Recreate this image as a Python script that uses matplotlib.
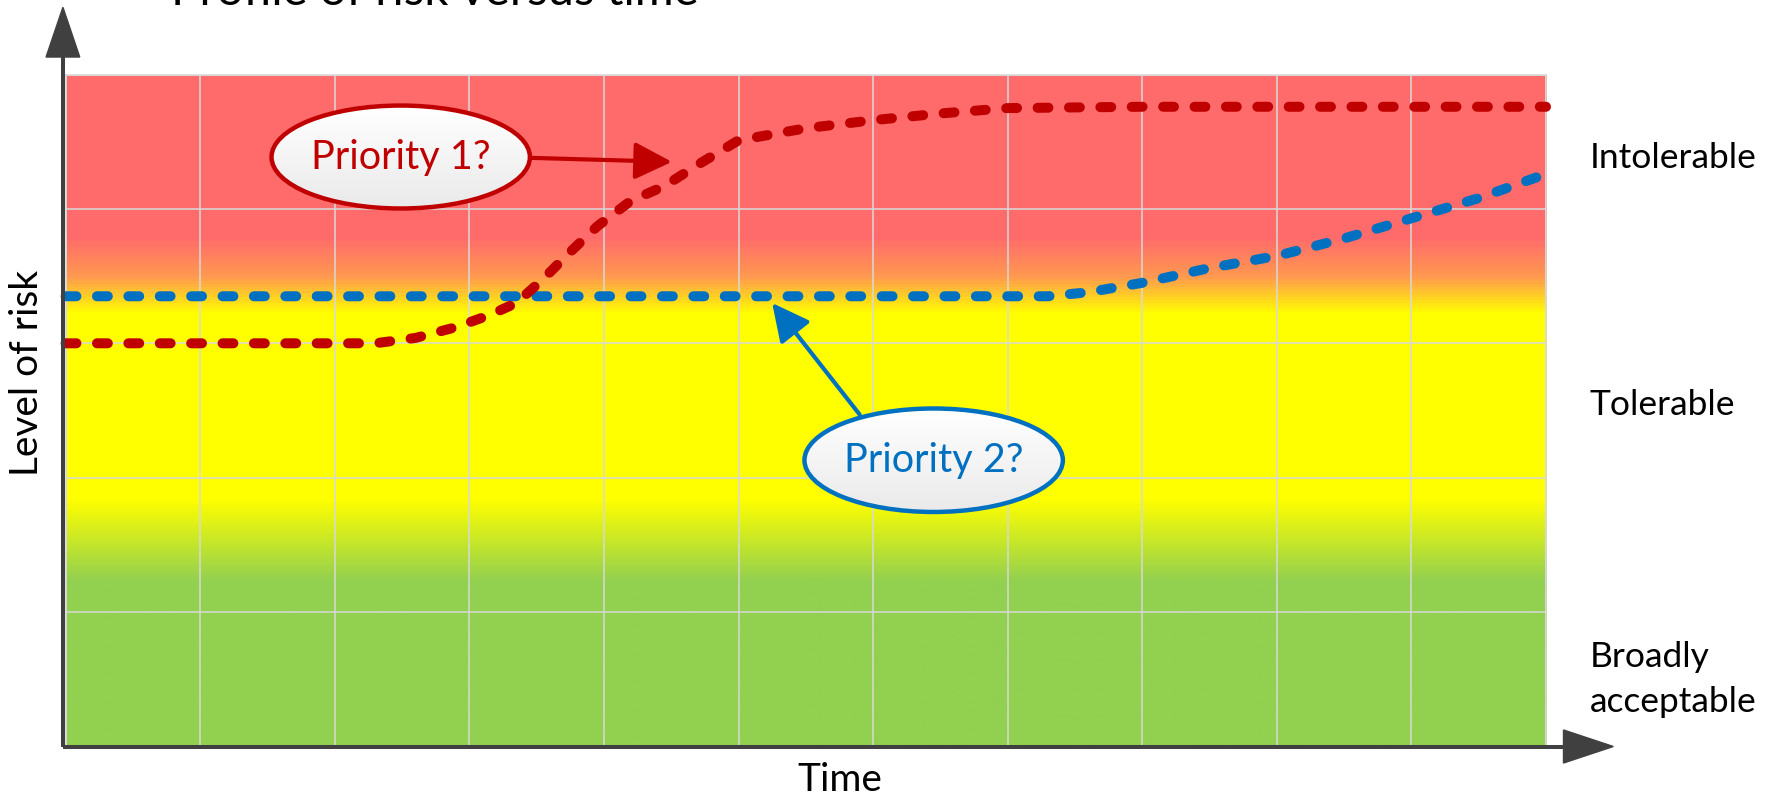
"""
Profile of risk versus time: two risk trajectories over a red/yellow/green zone background.
"""

import matplotlib

matplotlib.use("Agg")
import matplotlib.pyplot as plt
import numpy as np
from matplotlib.colors import LinearSegmentedColormap
from matplotlib.patches import Ellipse, Polygon

plt.rcParams["font.family"] = ["Lato", "DejaVu Sans"]
plt.rcParams["lines.scale_dashes"] = False

W, H, DPI = 1773, 799, 100

# risk trajectories (x = time in grid units, y = level of risk in grid units)
red_x = [0, 2.3, 2.6, 2.9, 3.15, 3.35, 3.55, 3.75, 3.95, 4.2, 4.45, 4.7, 5.0, 5.5, 6.0, 6.5, 7.0, 8.0, 11.0]
red_y = [3.0, 3.0, 3.04, 3.12, 3.21, 3.3, 3.48, 3.68, 3.87, 4.06, 4.17, 4.33, 4.51, 4.6, 4.66, 4.71, 4.75, 4.76, 4.76]
blue_x = [0, 7.3, 7.6, 8.0, 8.5, 9.0, 9.5, 10.0, 10.5, 11.0]
blue_y = [3.35, 3.35, 3.38, 3.45, 3.56, 3.65, 3.78, 3.93, 4.08, 4.26]

# background zone stops (level of risk, colour)
zone_levels = [0.0, 1.22, 1.83, 3.22, 3.5, 3.79, 5.0]
zone_colors = ["#92D050", "#92D050", "#FFFF00", "#FFFF00", "#FF9950", "#FF6B6B", "#FF6B6B"]

zone_labels = ["Intolerable", "Tolerable", "Broadly", "acceptable"]

RED = "#C00000"
BLUE = "#0070C0"
AXIS = "#404040"
GRID = "#D9D9D9"


def px(x, y):
    """pixel position (from top-left) -> figure fraction"""
    return x / W, 1 - y / H


def gradient_ellipse(ax, cx, cy, w, h, edge):
    ell = Ellipse((cx, cy), w, h, facecolor="none", edgecolor=edge, linewidth=3.2, zorder=6)
    ax.add_patch(ell)
    grad = np.linspace(1.0, 0.0, 64).reshape(-1, 1)
    cmap = LinearSegmentedColormap.from_list("shade", ["#EAEAEA", "#FFFFFF"])
    im = ax.imshow(
        grad,
        cmap=cmap,
        extent=(cx - w / 2, cx + w / 2, cy - h / 2, cy + h / 2),
        origin="upper",
        aspect="auto",
        zorder=5,
    )
    im.set_clip_path(ell)
    return ell


def main() -> None:
    fig = plt.figure(figsize=(W / DPI, H / DPI), dpi=DPI)
    ax = fig.add_axes([65.6 / W, 1 - 746.5 / H, 1480.4 / W, 672 / H])
    ax.set_xlim(0, 11)
    ax.set_ylim(0, 5)

    # zone background
    stops = [v / 5.0 for v in zone_levels]
    cmap = LinearSegmentedColormap.from_list("zones", list(zip(stops, zone_colors)))
    levels = np.linspace(0, 5, 600).reshape(-1, 1)
    ax.imshow(levels, cmap=cmap, vmin=0, vmax=5, extent=(0, 11, 0, 5), origin="lower", aspect="auto", zorder=0)

    ax.set_xticks(np.arange(0, 12))
    ax.set_yticks(np.arange(0, 6))
    ax.tick_params(length=0, labelbottom=False, labelleft=False)
    ax.grid(True, color=GRID, linewidth=1.1, zorder=1)
    ax.set_axisbelow(False)
    for sp in ax.spines.values():
        sp.set_color(GRID)
        sp.set_linewidth(1.1)

    ax.plot(blue_x, blue_y, color=BLUE, lw=7.2, dashes=(7.8, 14.8), dash_capstyle="round",
            solid_capstyle="round", clip_on=False, zorder=3)
    ax.plot(red_x, red_y, color=RED, lw=7.2, dashes=(7.8, 14.8), dash_capstyle="round",
            solid_capstyle="round", clip_on=False, zorder=4)

    # call-out bubbles
    gradient_ellipse(ax, 2.49, 4.386, 1.92, 0.766, RED)
    ax.text(2.49, 4.38, "Priority 1?", color=RED, fontsize=28.5, ha="center", va="center", zorder=7)
    ax.annotate("", xy=(4.505, 4.35), xytext=(3.45, 4.38),
                arrowprops=dict(arrowstyle="-|>,head_length=0.46,head_width=0.23", lw=3.0,
                                color=RED, mutation_scale=50, shrinkA=0, shrinkB=0), zorder=7)

    gradient_ellipse(ax, 6.45, 2.13, 1.92, 0.77, BLUE)
    ax.text(6.45, 2.13, "Priority 2?", color=BLUE, fontsize=28.5, ha="center", va="center", zorder=7)
    ax.annotate("", xy=(5.25, 3.30), xytext=(5.90, 2.47),
                arrowprops=dict(arrowstyle="-|>,head_length=0.46,head_width=0.23", lw=3.0,
                                color=BLUE, mutation_scale=50, shrinkA=0, shrinkB=0), zorder=7)

    # axis arrows
    x0 = -0.02
    ax.plot([x0, x0], [0, 5.15], color=AXIS, lw=2.9, clip_on=False, solid_capstyle="butt", zorder=8)
    ax.add_patch(Polygon([(x0 - 0.125, 5.13), (x0 + 0.125, 5.13), (x0, 5.50)], closed=True,
                         color=AXIS, clip_on=False, zorder=8))
    ax.plot([x0, 11.15], [0, 0], color=AXIS, lw=2.9, clip_on=False, solid_capstyle="butt", zorder=8)
    ax.add_patch(Polygon([(11.13, 0.123), (11.13, -0.123), (11.50, 0)], closed=True,
                         color=AXIS, clip_on=False, zorder=8))

    # labels
    fig.text(*px(435, 5), "Profile of risk versus time", fontsize=34, ha="center", va="baseline")
    fig.text(*px(840, 780), "Time", fontsize=28, ha="center", va="center")
    fig.text(*px(27, 373), "Level of risk", fontsize=28, rotation=90, ha="center", va="center")
    fig.text(*px(1590, 158), zone_labels[0], fontsize=25.5, ha="left", va="center")
    fig.text(*px(1590, 405), zone_labels[1], fontsize=25.5, ha="left", va="center")
    fig.text(*px(1590, 667), zone_labels[2], fontsize=25.5, ha="left", va="baseline")
    fig.text(*px(1590, 712), zone_labels[3], fontsize=25.5, ha="left", va="baseline")

    fig.savefig("out.png", dpi=DPI)
    plt.close(fig)


if __name__ == "__main__":
    main()
